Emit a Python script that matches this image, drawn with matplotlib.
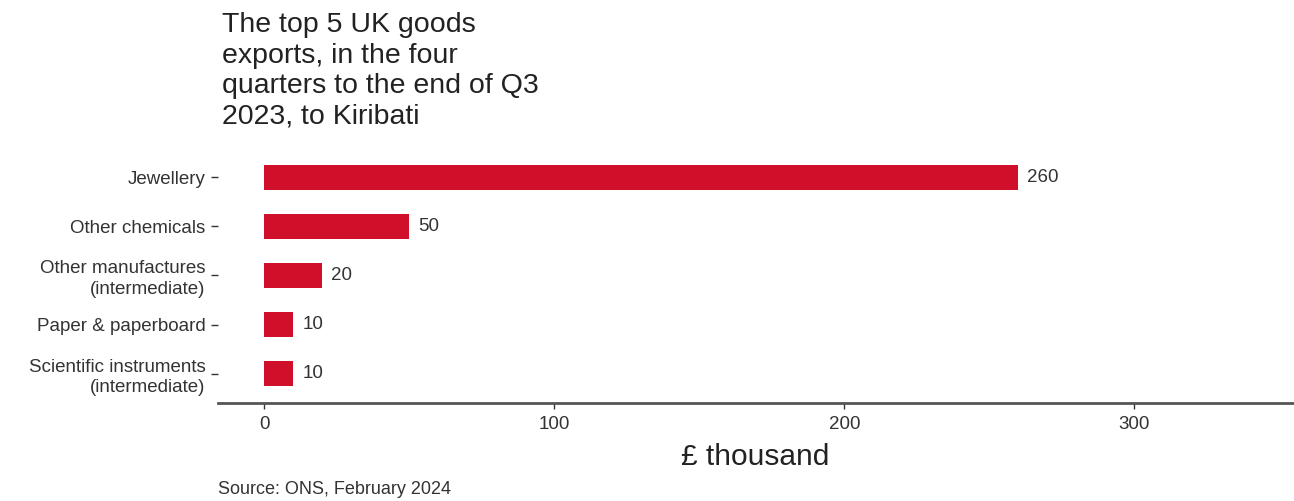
import matplotlib.pyplot as plt

# данные
categories = ["Jewellery", "Other chemicals", "Other manufactures\n(intermediate)",
              "Paper & paperboard", "Scientific instruments\n(intermediate)"]
values = [260, 50, 20, 10, 10]
xticks = [0, 100, 200, 300]

plt.rcParams['font.family'] = ['Liberation Sans', 'DejaVu Sans']

fig = plt.figure(figsize=(12.94, 5.01), dpi=100)
ax = fig.add_axes([0.1685, 0.1956, 0.8315, 0.509])

pos = list(range(len(categories)))
ax.barh(pos, values, height=0.5, color='#D0102B')
for p, v in zip(pos, values):  # подписи значений
    ax.text(v + 3, p, str(v), va='center', ha='left', fontsize=13.5, color='#333333')

ax.set_ylim(len(categories) - 0.4, -0.6)
ax.set_xlim(-16, 355)
ax.set_yticks(pos)
ax.set_yticklabels(categories, fontsize=13.5, color='#333333', linespacing=1.25)
ax.set_xticks(xticks)
ax.set_xticklabels([str(t) for t in xticks], fontsize=13.5, color='#333333')
ax.tick_params(axis='y', length=5, width=1, color='#333333', pad=4)
ax.tick_params(axis='x', length=4, width=1, color='#333333', pad=5)

for s in ['top', 'right', 'left']:
    ax.spines[s].set_visible(False)
ax.spines['bottom'].set_color('#555555')
ax.spines['bottom'].set_linewidth(2)

ax.set_xlabel("£ thousand", fontsize=21.5, color='#222222')
ax.xaxis.set_label_coords(0.499, -0.213)
ax.xaxis.label.set_va('center')

fig.text(222 / 1294, 1 - 12 / 501,
         "The top 5 UK goods\nexports, in the four\nquarters to the end of Q3\n2023, to Kiribati",
         fontsize=20.5, va='top', ha='left', linespacing=1.23, color='#222222')
fig.text(218 / 1294, 1 - 490 / 501, "Source: ONS, February 2024",
         fontsize=13, va='center', ha='left', color='#333333')

fig.savefig("out.png", dpi=100)
